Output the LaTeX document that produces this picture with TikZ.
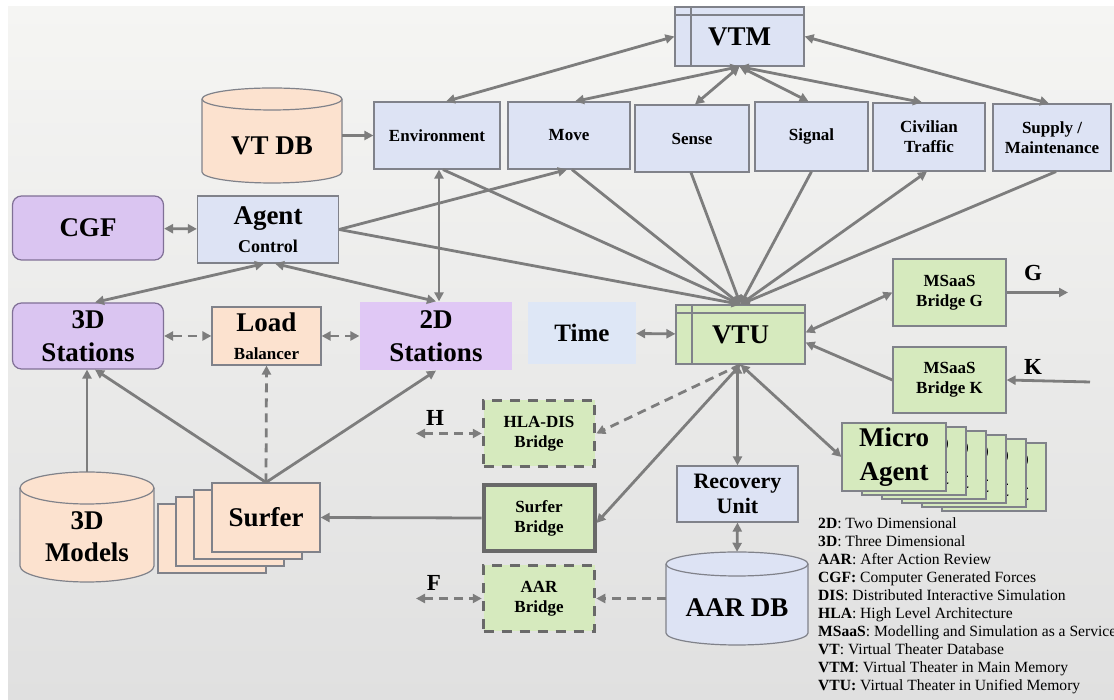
\documentclass[tikz,border=0pt]{standalone}
\usepackage{fontspec}
\setmainfont{Liberation Serif}
\usepackage{tikz}
\usetikzlibrary{arrows.meta}

\definecolor{vtblue}{RGB}{221,227,244}
\definecolor{vtgreen}{RGB}{214,234,190}
\definecolor{peach}{RGB}{252,226,207}
\definecolor{cgfpurple}{RGB}{218,197,241}
\definecolor{stpurple}{RGB}{224,200,245}
\definecolor{timeblue}{RGB}{222,231,246}
\definecolor{boxgray}{RGB}{128,130,138}
\definecolor{arrowgray}{RGB}{125,125,125}
\definecolor{purpleline}{RGB}{128,112,150}
\definecolor{bridgeline}{RGB}{105,105,105}
\definecolor{bgtop}{RGB}{245,245,243}
\definecolor{bgbottom}{RGB}{224,224,224}

% drum: centre x, centre y, x radius, height, y radius, fill
\newcommand{\drum}[6]{%
  \begin{scope}[shift={(#1,#2)}]
    \filldraw[fill=#6, draw=boxgray, line width=1.2pt]
      (-#3,#4/2-#5) -- (-#3,-#4/2+#5)
      arc[start angle=180, end angle=360, x radius=#3, y radius=#5]
      -- (#3,#4/2-#5)
      arc[start angle=0, end angle=180, x radius=#3, y radius=#5] -- cycle;
    \draw[boxgray, line width=1.2pt] (-#3,#4/2-#5)
      arc[start angle=180, end angle=360, x radius=#3, y radius=#5];
  \end{scope}}

\begin{document}
\begin{tikzpicture}[x=1pt, y=1pt, >={Triangle[length=9pt,width=9pt]},
  blk/.style={rectangle, inner sep=1pt, align=center},
  bluebox/.style={blk, draw=boxgray, line width=1.2pt, fill=vtblue, minimum height=67pt, font=\fontsize{17}{20}\selectfont\bfseries},
  greenbox/.style={blk, draw=boxgray, line width=1.2pt, fill=vtgreen, minimum width=113pt, minimum height=67pt, font=\fontsize{17}{20}\selectfont\bfseries},
  bridgebox/.style={greenbox, draw=bridgeline, line width=3.5pt, minimum width=111pt, minimum height=66pt},
  purplebox/.style={blk, draw=purpleline, line width=1.2pt, rounded corners=9pt, fill=cgfpurple, minimum width=151pt, minimum height=65pt, font=\fontsize{27}{33}\selectfont\bfseries},
  peachbox/.style={blk, draw=boxgray, line width=1.2pt, fill=peach, font=\fontsize{27}{32}\selectfont\bfseries},
  agentbox/.style={blk, draw=boxgray, line width=1.2pt, fill=vtgreen, minimum width=104pt, minimum height=68pt, font=\fontsize{27}{34}\selectfont\bfseries},
  membox/.style={blk, draw=boxgray, line width=1.2pt, fill=vtblue, minimum width=129pt, minimum height=59pt, font=\fontsize{27}{30}\selectfont\bfseries,
    path picture={\draw[boxgray, line width=1.1pt]
      ([xshift=16pt]path picture bounding box.north west) -- ([xshift=16pt]path picture bounding box.south west)
      ([yshift=-8pt]path picture bounding box.north west) -- ([yshift=-8pt]path picture bounding box.north east);}},
  dbbox/.style={rectangle, inner sep=0pt},
  dbtext/.style={align=center, inner sep=0pt, font=\fontsize{27}{32}\selectfont\bfseries},
  letter/.style={inner sep=0pt, font=\fontsize{23}{23}\selectfont\bfseries},
  legend/.style={align=left, inner sep=0pt, anchor=north west, font=\fontsize{15.6}{18}\selectfont},
  link/.style={draw=arrowgray, line width=2.8pt},
  dlink/.style={link, dash pattern=on 9pt off 6pt}
]
  \useasboundingbox (0,0) rectangle (1114,700);
  \fill[white] (0,0) rectangle (1114,700);
  \shade[top color=bgtop, bottom color=bgbottom] (8,0) rectangle (1114,693);

  \node[membox] (vtm) at (739.5,663.5) {VTM};
  \node[bluebox, minimum width=126pt] (env) at (437,564.5) {Environment};
  \node[bluebox, minimum width=122pt] (move) at (569,564.5) {Move};
  \node[bluebox, minimum width=114pt] (sense) at (692,561.5) {Sense};
  \node[bluebox, minimum width=113pt, minimum height=69pt] (signal) at (811.5,563.5) {Signal};
  \node[bluebox, minimum width=112pt, minimum height=68pt] (civil) at (929,563) {Civilian\\Traffic};
  \node[bluebox, minimum width=118pt] (supply) at (1052,562.5) {Supply /\\Maintenance};

  \drum{272}{564.5}{70}{95}{11}{peach}
  \node[dbbox, minimum width=140pt, minimum height=95pt] (vtdb) at (272,564.5) {};
  \node[dbtext] (vtdbtext) at ([yshift=-10pt]vtdb.center) {VT DB};

  \node[purplebox, minimum height=64pt] (cgf) at (88,472) {CGF};
  \node[bluebox, minimum width=141pt, font=\fontsize{27}{28}\selectfont\bfseries] (agent) at (268,470.5)
    {Agent\\{\fontsize{18}{20}\selectfont Control}};
  \node[purplebox, minimum height=66pt] (st3d) at (88,364) {3D\\Stations};
  \node[peachbox, minimum width=109pt, minimum height=58pt, font=\fontsize{27}{28}\selectfont\bfseries] (load) at (266.5,364)
    {Load\\{\fontsize{17}{20}\selectfont Balancer}};
  \node[purplebox, draw=none, rounded corners=0pt, fill=stpurple, minimum width=152pt, minimum height=68pt] (st2d) at (436,364) {2D\\Stations};
  \node[blk, fill=timeblue, minimum width=108pt, minimum height=62pt, font=\fontsize{25}{28}\selectfont\bfseries] (time) at (582,367) {Time};
  \node[membox, fill=vtgreen] (vtu) at (740.5,365.5) {VTU};

  \node[greenbox] (msg) at (949.5,407.5) {MSaaS\\Bridge G};
  \node[greenbox, minimum height=66pt] (msk) at (949.5,320) {MSaaS\\Bridge K};
  \node[letter] (glabel) at (1033,427) {G};
  \node[letter] (klabel) at (1033,333) {K};
  \coordinate (gend) at (1068,407.5);
  \coordinate (kstart) at (1090,318);

  \foreach \k in {5,4,...,1}
    \node[agentbox] (micro\k) at (894+20*\k,243-4*\k) {Micro\\Agent};
  \node[agentbox] (micro) at (894,243) {Micro\\Agent};

  \node[bluebox, minimum width=121pt, minimum height=56pt, font=\fontsize{22}{25}\selectfont\bfseries] (recov) at (737.5,206) {Recovery\\Unit};
  \drum{737}{101.5}{71}{93}{12}{vtblue}
  \node[dbbox, minimum width=142pt, minimum height=93pt] (aardb) at (737,101.5) {};
  \node[dbtext] (aardbtext) at ([yshift=-9.5pt]aardb.center) {AAR DB};

  \node[bridgebox, dash pattern=on 10pt off 8pt] (hla) at (539,266.5) {HLA-DIS\\Bridge};
  \node[bridgebox, line width=4pt] (sbridge) at (539,182) {Surfer\\Bridge};
  \node[bridgebox, dash pattern=on 10pt off 8pt] (aarbr) at (539,101.5) {AAR\\Bridge};
  \node[letter] (hlabel) at (435,282) {H};
  \node[letter] (flabel) at (434,117) {F};
  \coordinate (hend) at (416,266.5);
  \coordinate (fend) at (416,101.5);

  \foreach \k in {3,2,1}
    \node[peachbox, minimum width=108pt, minimum height=69pt] (surfer\k) at (266-18*\k,182.5-7*\k) {Surfer};
  \node[peachbox, minimum width=108pt, minimum height=69pt] (surfer) at (266,182.5) {Surfer};

  \drum{87}{173}{67}{110}{16}{peach}
  \node[dbbox, minimum width=134pt, minimum height=110pt] (models) at (87,173) {};
  \node[dbtext] (modelstext) at ([yshift=-10pt]models.center) {3D\\Models};

  \node[legend] (legend) at (818,183) {%
    \textbf{2D}: Two Dimensional\\
    \textbf{3D}: Three Dimensional\\
    \textbf{AAR}: After Action Review\\
    \textbf{CGF:} Computer Generated Forces\\
    \textbf{DIS}: Distributed Interactive Simulation\\
    \textbf{HLA}: High Level Architecture\\
    \textbf{MSaaS}: Modelling and Simulation as a Service\\
    \textbf{VT}: Virtual Theater Database\\
    \textbf{VTM}: Virtual Theater in Main Memory\\
    \textbf{VTU:} Virtual Theater in Unified Memory};

  \draw[link, <->] (vtm.west) -- ([xshift=9pt]env.north);
  \draw[link, <->] (vtm.east) -- ([xshift=-3pt]supply.north);
  \foreach \n/\dx in {move/6, sense/3, signal/-3, civil/-7}
    \draw[link, <->] (vtm.south) -- ([xshift=\dx pt]\n.north);

  \draw[link, ->] (vtdb.east) -- (env.west);
  \draw[link, <->] (cgf) -- (agent);
  \draw[link, <->] ([xshift=-4pt]agent.south) -- ([xshift=7pt]st3d.north);
  \draw[link, <->] ([xshift=7pt]agent.south) -- (st2d.north);
  \draw[link, <->] ([xshift=2pt]env.south) -- ([xshift=3pt]st2d.north);
  \draw[link, ->] (agent.east) -- ([xshift=-2pt]move.south);
  \draw[link, ->] (agent.east) -- (vtu.north);
  \foreach \n/\dx in {env/6, move/3, sense/-1, signal/0, supply/4}
    \draw[link, ->] ([xshift=\dx pt]\n.south) -- (vtu.north);
  \draw[link, <->] (vtu.north) -- ([xshift=-2pt]civil.south);

  \draw[link, <->] (time) -- (vtu);
  \draw[link, <->] ([yshift=2pt]vtu.east) -- (msg.west);
  \draw[link, ->] (msg.east) -- (gend);
  \draw[link, ->] (kstart) -- (msk.east);
  \draw[link, ->] (msk.west) -- ([yshift=-8pt]vtu.east);

  \draw[link, <->] (recov.north |- vtu.south) -- (recov.north);
  \draw[link, <->] (vtu.south) -- (micro.west);
  \draw[link, <->] (vtu.south) -- ([yshift=-5pt]sbridge.east);
  \draw[dlink, ->] (vtu.south) -- (hla.east);
  \draw[link, <->] (recov.south) -- (aardb.north);
  \draw[dlink, ->] (aardb.west) -- (aarbr.east);
  \draw[dlink, <->] (hend) -- (hla.west);
  \draw[dlink, <->] (fend) -- (aarbr.west);

  \draw[link, ->] (sbridge.west) -- (surfer.east);
  \draw[link, ->] (surfer.north) -- ([xshift=7pt]st3d.south);
  \draw[link, ->] (surfer.north) -- (st2d.south);
  \draw[dlink, ->] (surfer.north) -- (load.south);
  \draw[link, ->] (models.north) -- (models.north |- st3d.south);
  \draw[dlink, <->] (st3d) -- (load);
  \draw[dlink, <->] (load) -- (st2d);
\end{tikzpicture}
\end{document}
